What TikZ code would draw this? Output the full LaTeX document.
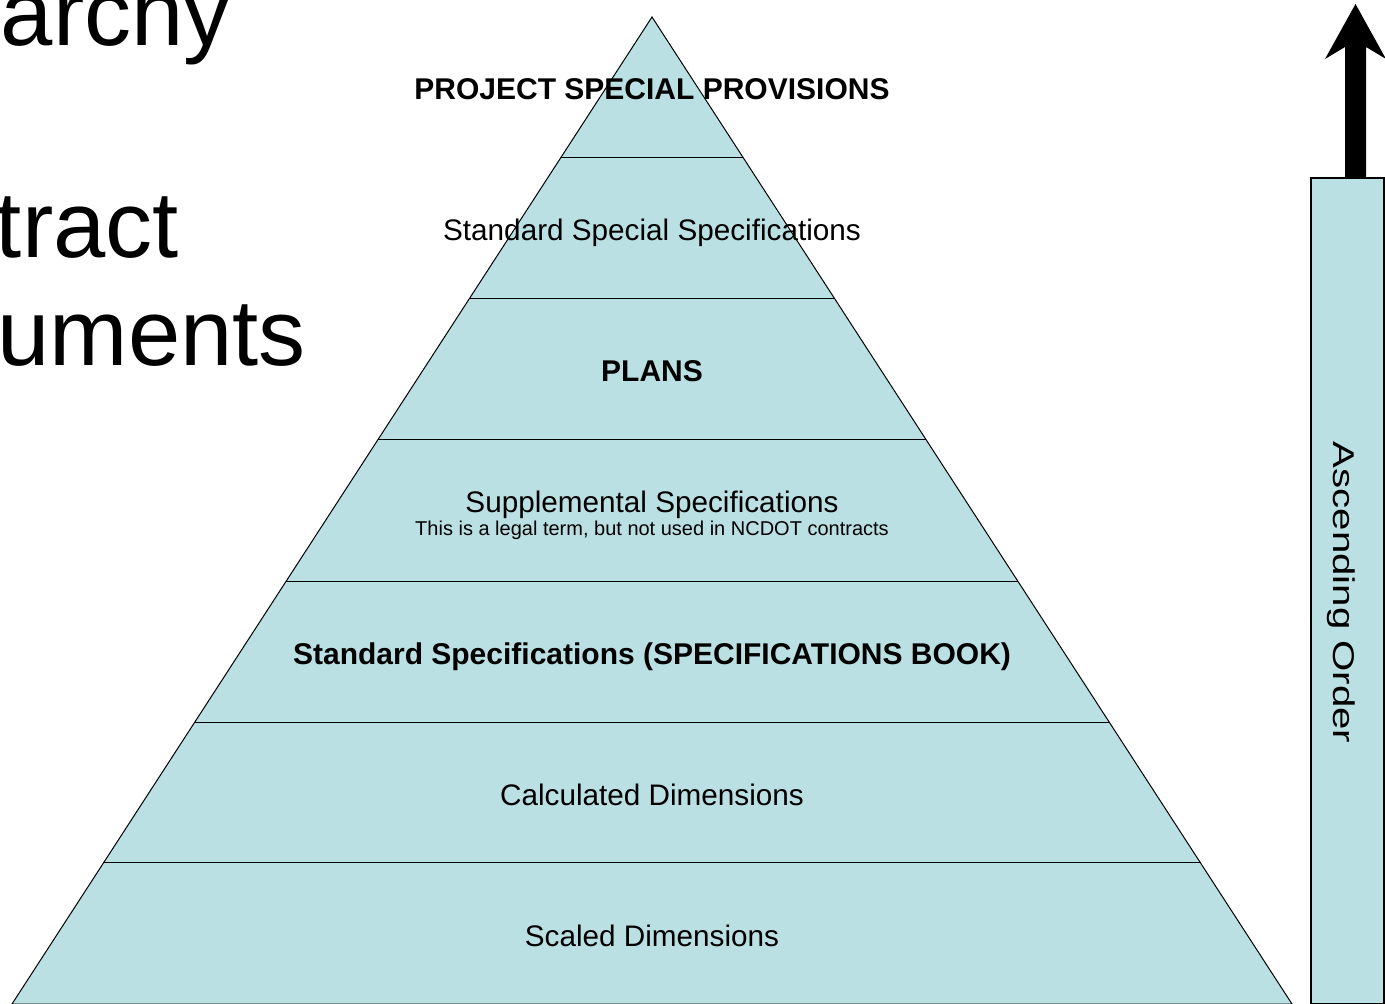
\documentclass[tikz,border=0pt]{standalone}
\usepackage{fontspec}
\setmainfont{Liberation Sans}
\usetikzlibrary{calc}
\definecolor{layerfill}{HTML}{BBE0E3}
\tikzset{
  lyr/.style={font=\fontsize{29.7}{34}\selectfont, inner sep=0pt, anchor=base},
  lyrb/.style={lyr, font=\fontsize{30}{34}\selectfont\bfseries},
  bigtxt/.style={font=\fontsize{94}{100}\selectfont, inner sep=0pt, anchor=base east},
}
\begin{document}
\begin{tikzpicture}[x=1pt,y=-1pt]
\useasboundingbox (0,0) rectangle (1385,1004);
% left title (cropped)
\node[bigtxt] (t1) at (231,45) {archy};
\node[bigtxt] (t2) at (179,257) {tract};
\node[bigtxt] (t3) at (306,365) {uments};
% pyramid
\coordinate (apex) at (652,17);
\coordinate (bl) at (12,1004);
\coordinate (br) at (1292,1004);
\filldraw[fill=layerfill, draw=black, line width=1pt] (apex) -- (bl) -- (br) -- cycle;
\foreach \k in {1,...,6} {
  \draw[line width=1pt] ($(apex)!\k/7!(bl)$) -- ($(apex)!\k/7!(br)$);
}
% layer texts
\node[lyrb] (l1) at (652,99.5) {PROJECT SPECIAL PROVISIONS};
\node[lyr] (l2) at (652,240.5) {Standard Special Specifications};
\node[lyrb] (l3) at (652,381.5) {PLANS};
\node[lyr] (l4) at (652,512.5) {Supplemental Specifications};
\node[lyr, font=\fontsize{20}{22}\selectfont] (l4b) at (652,535) {This is a legal term, but not used in NCDOT contracts};
\node[lyrb] (l5) at (652,664.5) {Standard Specifications (SPECIFICATIONS BOOK)};
\node[lyr] (l6) at (652,805.5) {Calculated Dimensions};
\node[lyr] (l7) at (652,946.5) {Scaled Dimensions};
% ascending order box
\draw[fill=layerfill, draw=black, line width=1.5pt] (1311,178) rectangle (1384,1004);
\node[font=\fontsize{30}{34}\selectfont, inner sep=0pt, anchor=center, rotate=-90, xscale=1.34] (asc) at (1341,592.5) {Ascending Order};
% block arrow
\coordinate (shaftL) at (1345,178);
\coordinate (shaftR) at (1366,178);
\coordinate (tip) at (1355.5,4);
\fill[black] (shaftL) -- (1345,47) -- (1325,59) -- (tip) -- (1386,59) -- (1366,47) -- (shaftR) -- cycle;
\end{tikzpicture}
\end{document}
